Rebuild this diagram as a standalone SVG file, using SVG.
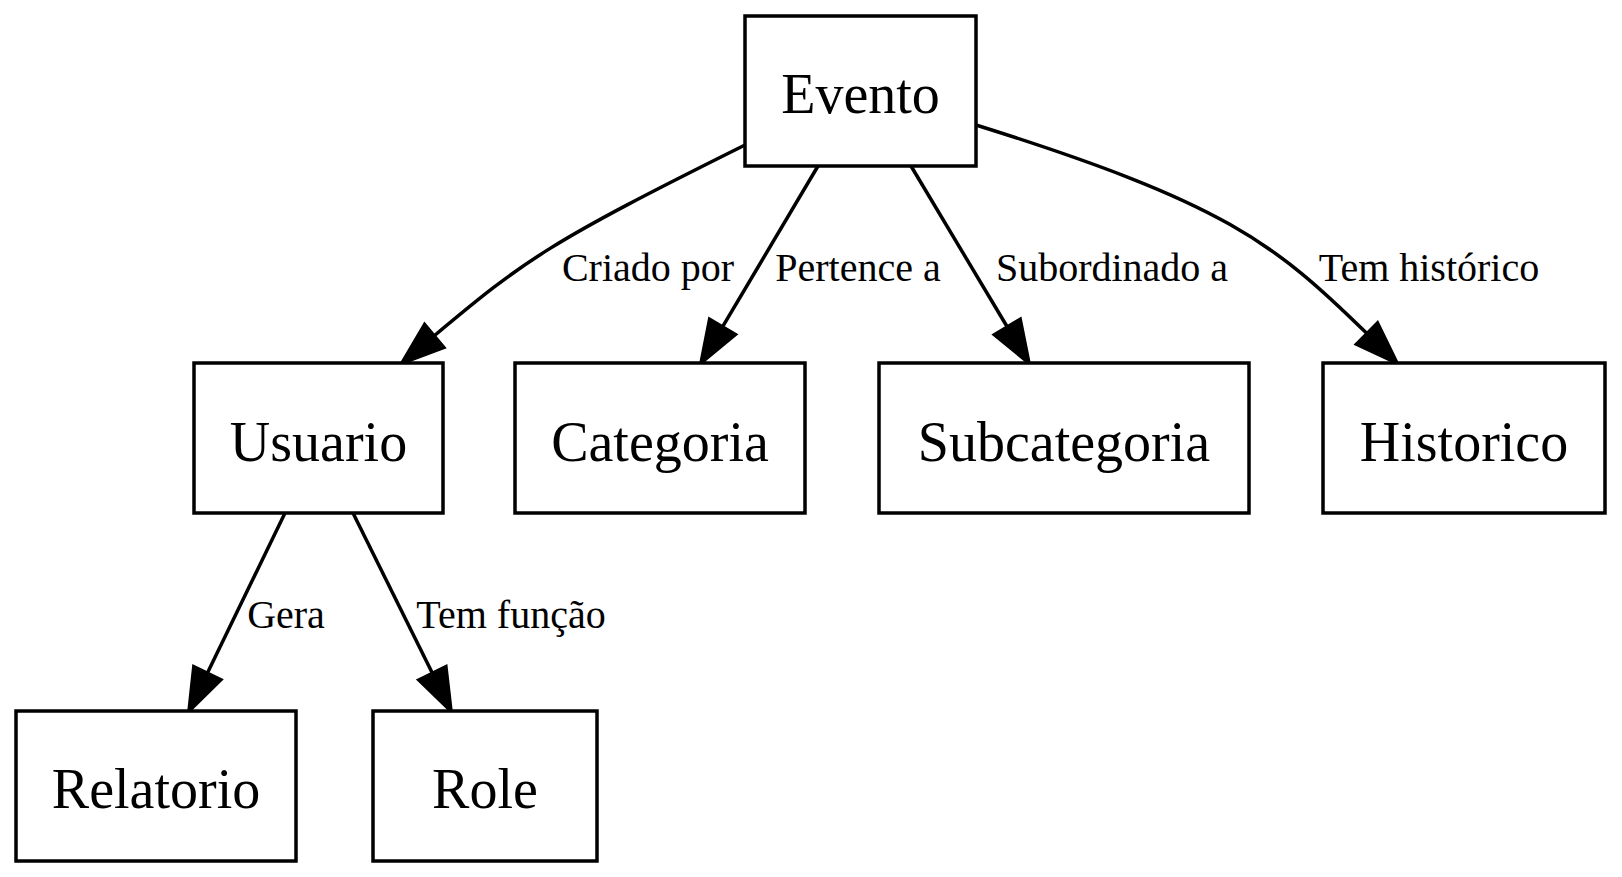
<svg xmlns="http://www.w3.org/2000/svg" width="1622" height="877" viewBox="0 0 1622 877">
<style>
.box{fill:#fff;stroke:#000;stroke-width:3.5}
.nl{font-family:"Liberation Serif","Times New Roman",serif;font-size:56px;fill:#000;text-anchor:middle}
.el{font-family:"Liberation Serif","Times New Roman",serif;font-size:40px;fill:#000;text-anchor:middle}
.edge{fill:none;stroke:#000;stroke-width:3.5}
.ah{fill:#000;stroke:#000;stroke-width:3.5;stroke-linejoin:miter}
</style>
<rect width="1622" height="877" fill="#fff"/>
<g id="connectors">
  <g id="e-evento-usuario">
    <path class="edge" d="M745,145 C548,243 526,259 434,336"/>
    <polygon class="ah" points="402,363 443.8,347.5 424.6,324.5"/>
    <text class="el" x="648" y="281">Criado por</text>
  </g>
  <g id="e-evento-categoria">
    <path class="edge" d="M818,166 L722.5,326.9"/>
    <polygon class="ah" points="701,363 735.4,334.6 709.6,319.2"/>
    <text class="el" x="858" y="281">Pertence a</text>
  </g>
  <g id="e-evento-subcategoria">
    <path class="edge" d="M911,166 L1007.3,327"/>
    <polygon class="ah" points="1029,363 1020.2,319.3 994.4,334.7"/>
    <text class="el" x="1112" y="281">Subordinado a</text>
  </g>
  <g id="e-evento-historico">
    <path class="edge" d="M976,125 C1224,202.7 1274.2,242.6 1367,333.6"/>
    <polygon class="ah" points="1397,363 1377.5,322.9 1356.5,344.3"/>
    <text class="el" x="1429" y="281">Tem histórico</text>
  </g>
  <g id="e-usuario-relatorio">
    <path class="edge" d="M285,513 L207.3,673.2"/>
    <polygon class="ah" points="189,711 220.8,679.7 193.8,666.7"/>
    <text class="el" x="286" y="628">Gera</text>
  </g>
  <g id="e-usuario-role">
    <path class="edge" d="M353,513 L432.4,673.3"/>
    <polygon class="ah" points="451,711 445.9,666.7 418.9,679.9"/>
    <text class="el" x="511" y="628">Tem função</text>
  </g>
</g>
<g id="n-evento"><rect class="box" x="745" y="16" width="231" height="150"/><text class="nl" x="860.5" y="113">Evento</text></g>
<g id="n-usuario"><rect class="box" x="194" y="363" width="249" height="150"/><text class="nl" x="318.5" y="461">Usuario</text></g>
<g id="n-categoria"><rect class="box" x="515" y="363" width="290" height="150"/><text class="nl" x="660" y="461">Categoria</text></g>
<g id="n-subcategoria"><rect class="box" x="879" y="363" width="370" height="150"/><text class="nl" x="1064" y="461">Subcategoria</text></g>
<g id="n-historico"><rect class="box" x="1323" y="363" width="282" height="150"/><text class="nl" x="1464" y="461">Historico</text></g>
<g id="n-relatorio"><rect class="box" x="16" y="711" width="280" height="150"/><text class="nl" x="156" y="808">Relatorio</text></g>
<g id="n-role"><rect class="box" x="373" y="711" width="224" height="150"/><text class="nl" x="485" y="808">Role</text></g>
</svg>
